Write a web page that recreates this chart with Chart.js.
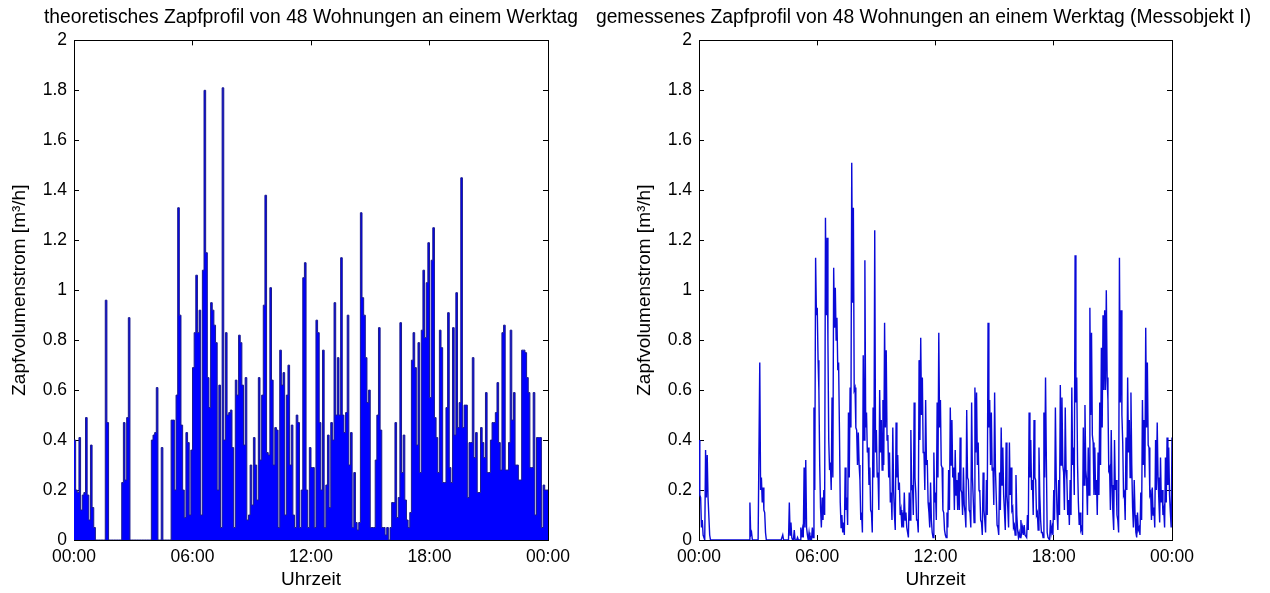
<!DOCTYPE html>
<html><head><meta charset="utf-8">
<script src="https://cdn.jsdelivr.net/npm/chart.js@4.4.1/dist/chart.umd.min.js"></script>
<style>
html,body{margin:0;padding:0;background:#fff;overflow:hidden;width:1270px;height:593px}
canvas{position:absolute;top:0}
</style></head><body>
<canvas id="c1" width="623" height="593" style="left:0px;width:623px;height:593px"></canvas>
<canvas id="c2" width="685" height="593" style="left:585px;width:685px;height:593px"></canvas>
<script>
// ---- labels ----
const xTickLabels = ['00:00', '06:00', '12:00', '18:00', '00:00'];
const yTickLabels = ['0', '0.2', '0.4', '0.6', '0.8', '1', '1.2', '1.4', '1.6', '1.8', '2'];
const titleLeft = 'theoretisches Zapfprofil von 48 Wohnungen an einem Werktag';
const titleRight = 'gemessenes Zapfprofil von 48 Wohnungen an einem Werktag (Messobjekt I)';
const xLabel = 'Uhrzeit';
const yLabel = 'Zapfvolumenstrom [m³/h]';

// ---- theoretical profile, 5-minute steps 00:00 .. 24:00 (m³/h) ----
const theoretisch = [
  0.40,0.20,0.19,0.41,0.12,0.18,0.19,0.49,0.18,0.08,0.38,0.13,
  0.05,0,0,0,0,0,0,0.96,0.47,0,0,0,
  0,0,0,0,0,0.23,0.47,0.24,0.49,0.89,0,0,
  0,0,0,0,0,0,0,0,0,0,0,0.40,
  0.42,0.43,0.61,0,0,0.37,0,0,0,0,0,0.48,
  0.48,0.20,0.58,1.33,0.90,0.46,0.20,0.09,0.43,0.39,0.10,0.36,
  0.69,0.83,1.06,0.83,0.92,0.10,1.08,1.80,1.15,0.65,0.53,0.95,
  0.92,0.86,0.79,0.20,0.62,0.05,1.81,0.40,0.83,0.50,0.51,0.52,
  0.37,0.05,0.64,0.58,0.82,0.79,0.62,0.38,0.65,0.08,0.10,0.30,
  0.14,0.41,0.30,0.16,0.65,0.32,0.58,0.94,1.38,0.35,0.34,1.01,
  0.64,0.30,0.45,0.44,0.05,0.76,0.62,0.67,0.10,0.58,0.70,0.30,
  0.46,0.10,0.05,0.50,0.47,0.05,0.20,1.05,1.11,0.20,0.05,0.37,
  0.29,0.29,0.05,0.88,0.83,0.47,0.20,0.76,0.05,0.22,0.42,0.13,
  0.47,0.40,0.95,0.50,0.73,0.50,1.13,0.50,0.43,0.51,0.90,0.30,
  0.43,0.05,0.27,0.07,0.04,0.07,1.31,0.97,0.90,0.73,0.55,0.60,
  0.05,0.05,0.05,0.32,0.50,0.85,0.44,0.05,0.05,0.02,0.05,0,
  0.05,0.15,0.15,0.47,0.09,0.17,0.87,0.27,0.42,0.16,0.08,0.05,
  0.11,0.72,0.83,0.69,0.38,0.79,0.27,0.84,1.08,0.81,1.03,1.19,
  0.57,1.12,1.25,0.49,0.41,0.27,0.84,0.77,0.23,0.23,0.53,0.91,
  0.29,0.23,0.85,0.42,0.99,0.45,0.55,1.45,0.45,0.54,0.54,0.17,
  0.39,0.39,0.73,0.33,0.43,0.19,0.19,0.45,0.39,0.33,0.59,0.27,
  0.27,0.40,0.47,0.47,0.51,0.63,0.39,0.28,0.83,0.86,0.28,0.28,
  0.39,0.84,0.48,0.59,0.30,0.30,0.24,0.24,0.76,0.76,0.75,0.65,
  0.59,0.29,0.29,0.59,0.10,0.41,0.41,0.41,0.05,0.22,0.20,0.20,
  0.20
];

// ---- measured profile: peak of each 5-minute step (m³/h) ----
const gemessenMax = [
  0.40,0.17,0.08,0.02,0.36,0.34,0.17,0,0,0,0,0,
  0,0,0,0,0,0,0,0,0,0,0,0,
  0,0,0,0,0,0,0,0.15,0.03,0,0,0,
  0,0.71,0.25,0.21,0.11,0,0,0,0,0,0,0,
  0,0,0,0.02,0,0,0,0.15,0.07,0,0.04,0,
  0.01,0,0.05,0.04,0.29,0.32,0.02,0.03,0.01,0.05,0.53,1.13,
  0.93,0.60,0.13,0.17,0.20,1.29,1.21,0.40,0.31,0.57,1.09,1.01,
  0.89,0.71,0.15,0.10,0.07,0.29,0.17,0.51,0.61,1.51,1.33,0.61,
  0.44,0.43,0.24,0.11,0.74,1.12,0.51,0.37,0.29,0.11,0.53,1.24,
  0.44,0.27,0.60,0.48,0.56,0.87,0.76,0.42,0.35,0.19,0.45,0.10,
  0.47,0.34,0.23,0.12,0.11,0.19,0.11,0.03,0.19,0.44,0.22,0.55,
  0.19,0.08,0.72,0.81,0.65,0.35,0.56,0.32,0.11,0.23,0.03,0.35,
  0.19,0.55,0.83,0.56,0.29,0.11,0.02,0.11,0.28,0.53,0.48,0.29,
  0.36,0.24,0.27,0.41,0.19,0.29,0.11,0.52,0.24,0.11,0.55,0.16,
  0.61,0.59,0.39,0.19,0.07,0.27,0.08,0.24,0.87,0.56,0.51,0.29,
  0.59,0.17,0.05,0.27,0.45,0.37,0.11,0.39,0.13,0.39,0.29,0.13,
  0.06,0.26,0.04,0.03,0.08,0.05,0.06,0.02,0.10,0.51,0.40,0.24,
  0.48,0.24,0.11,0.37,0.08,0.03,0.51,0.65,0.03,0.01,0.08,0.05,
  0.20,0.53,0.11,0.24,0.62,0.57,0.27,0.53,0.24,0.16,0.24,0.61,
  0.37,1.14,0.65,0.15,0.11,0.05,0.45,0.54,0.24,0.37,0.93,0.83,
  0.39,0.37,0.24,0.35,0.55,0.77,0.90,0.92,1.00,0.56,0.29,0.44,
  0.11,0.40,0.24,0.08,1.13,0.92,0.39,0.19,0.41,0.65,0.48,0.59,
  0.13,0.24,0.03,0.11,0.05,0.19,0.56,0.48,0.85,0.71,0.37,0.19,
  0.21,0.13,0.40,0.47,0.16,0.33,0.20,0.12,0.33,0.41,0.37,0.11,
  0.41
];

// ---- measured profile: trough inside each 5-minute step (m³/h) ----
const gemessenMin = [
  0.18,0.05,0.02,0,0.17,0.17,0.02,0,0,0,0,0,
  0,0,0,0,0,0,0,0,0,0,0,0,
  0,0,0,0,0,0,0,0.02,0,0,0,0,
  0,0.20,0.15,0.12,0.03,0,0,0,0,0,0,0,
  0,0,0,0,0,0,0,0.02,0.01,0,0,0,
  0,0,0.01,0.01,0.05,0.05,0,0,0,0.01,0.20,0.90,
  0.72,0.30,0.05,0.08,0.10,0.90,0.80,0.28,0.20,0.25,0.85,0.80,
  0.68,0.45,0.05,0.03,0.02,0.12,0.06,0.25,0.45,0.95,0.60,0.45,
  0.30,0.30,0.08,0.03,0.40,0.45,0.35,0.22,0.12,0.03,0.25,0.35,
  0.25,0.12,0.35,0.28,0.30,0.45,0.40,0.25,0.15,0.08,0.20,0.04,
  0.25,0.20,0.10,0.05,0.05,0.08,0.05,0.01,0.08,0.20,0.10,0.25,
  0.08,0.03,0.40,0.50,0.35,0.20,0.30,0.15,0.05,0.08,0.01,0.15,
  0.08,0.25,0.45,0.30,0.12,0.04,0.01,0.05,0.12,0.30,0.25,0.12,
  0.18,0.12,0.12,0.20,0.10,0.14,0.05,0.25,0.12,0.05,0.25,0.07,
  0.35,0.30,0.20,0.08,0.02,0.12,0.03,0.10,0.45,0.30,0.28,0.14,
  0.28,0.06,0.02,0.12,0.22,0.18,0.04,0.18,0.05,0.18,0.12,0.05,
  0.02,0.10,0.01,0.01,0.03,0.02,0.02,0.01,0.04,0.25,0.20,0.10,
  0.25,0.10,0.04,0.18,0.03,0.01,0.25,0.32,0.01,0,0.03,0.02,
  0.08,0.25,0.04,0.10,0.30,0.30,0.12,0.28,0.10,0.06,0.10,0.30,
  0.18,0.55,0.30,0.06,0.04,0.02,0.22,0.28,0.10,0.18,0.50,0.42,
  0.18,0.18,0.10,0.18,0.30,0.45,0.60,0.60,0.65,0.28,0.12,0.22,
  0.04,0.20,0.10,0.03,0.55,0.50,0.18,0.08,0.20,0.35,0.25,0.30,
  0.05,0.10,0.01,0.04,0.02,0.08,0.30,0.25,0.45,0.38,0.18,0.08,
  0.10,0.05,0.20,0.25,0.07,0.15,0.10,0.05,0.15,0.22,0.18,0.05
];

const STEP = 5; // minutes per sample
const theoPoints = theoretisch.map((v, i) => ({ x: i * STEP, y: v }));
const measPoints = [];
gemessenMax.forEach((v, i) => {
  measPoints.push({ x: i * STEP, y: v });
  if (i < gemessenMin.length) measPoints.push({ x: i * STEP + STEP / 2, y: gemessenMin[i] });
});

Chart.defaults.font.family = '"Liberation Sans", Arial, Helvetica, sans-serif';
Chart.defaults.color = '#000';

function panel(id, cfg) {
  const black = '#000';
  const gridOpts = { drawOnChartArea: false, drawTicks: true, tickLength: -5, color: black, lineWidth: 1 };
  return new Chart(document.getElementById(id), {
    type: 'line',
    data: {
      datasets: [{
        data: cfg.points,
        borderColor: cfg.line,
        backgroundColor: cfg.fillColor,
        borderWidth: cfg.lineWidth,
        pointRadius: 0,
        tension: 0,
        stepped: cfg.stepped,
        fill: cfg.fill
      }]
    },
    options: {
      responsive: false,
      animation: false,
      events: [],
      layout: { padding: { left: 0, right: cfg.padR, top: 0, bottom: 0 } },
      plugins: {
        legend: { display: false },
        tooltip: { enabled: false },
        title: {
          display: true, text: cfg.title, color: black,
          font: { size: 19.3, weight: 'normal' },
          padding: { top: 6, bottom: 11.2 }
        }
      },
      scales: {
        x: {
          type: 'linear', position: 'bottom', min: 0, max: 1440,
          ticks: { stepSize: 360, autoSkip: false, maxRotation: 0, padding: 11.5,
                   font: { size: 17.5 }, color: black,
                   callback: (v, i) => xTickLabels[i] },
          grid: gridOpts,
          border: { display: true, color: black, width: 1 },
          title: { display: true, text: xLabel, color: black, font: { size: 19 }, padding: { top: 0, bottom: 1.6 } },
          afterFit: s => { s.height = 53; }
        },
        x2: {
          type: 'linear', position: 'top', min: 0, max: 1440,
          ticks: { stepSize: 360, display: false },
          grid: gridOpts,
          border: { display: true, color: black, width: 1 },
          afterFit: s => { s.height = 0; }
        },
        y: {
          type: 'linear', position: 'left', min: 0, max: 2,
          ticks: { stepSize: 0.2, padding: 12, font: { size: 17.5 }, color: black,
                   callback: (v, i) => yTickLabels[i] },
          grid: gridOpts,
          border: { display: true, color: black, width: 1 },
          title: { display: true, text: yLabel, color: black, font: { size: 19 }, padding: { top: cfg.yTitlePad, bottom: 0 } },
          afterFit: s => { s.width = cfg.yW; }
        },
        y2: {
          type: 'linear', position: 'right', min: 0, max: 2,
          ticks: { stepSize: 0.2, display: false },
          grid: gridOpts,
          border: { display: true, color: black, width: 1 },
          afterFit: s => { s.width = cfg.y2W; }
        }
      }
    }
  });
}

panel('c1', { points: theoPoints, title: titleLeft, line: '#1c1c8c', fillColor: '#0000ff', lineWidth: 1,
  stepped: true, fill: 'origin', padR: 1, yW: 74, y2W: 74, yTitlePad: 8.6 });
panel('c2', { points: measPoints, title: titleRight, line: '#0a0ad8', fillColor: 'rgba(0,0,0,0)', lineWidth: 1.4,
  stepped: false, fill: false, padR: 8, yW: 114, y2W: 90, yTitlePad: 48.6 });
</script>
</body></html>
